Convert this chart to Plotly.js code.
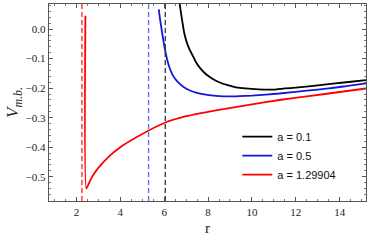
<!DOCTYPE html>
<html>
<head>
<meta charset="utf-8">
<script src="https://cdn.plot.ly/plotly-3.0.1.min.js"></script>
<style>html,body{margin:0;padding:0;background:#fff}#chart{width:374px;height:240px}</style>
</head>
<body>
<div id="chart"></div>
<script>
// a = 0.1
const r_a01 = [6.66, 6.7, 6.77, 6.85, 6.92, 7.03, 7.15, 7.3, 7.45, 7.65, 7.91, 8.2, 8.51, 8.9, 9.27, 9.7, 10.3, 10.9, 11.5, 12.0, 12.7, 13.5, 14.3, 15.2];
const v_a01 = [0.12, 0.09, 0.053, 0.015, -0.015, -0.045, -0.068, -0.09, -0.112, -0.133, -0.153, -0.168, -0.18, -0.19, -0.197, -0.201, -0.204, -0.205, -0.201, -0.198, -0.193, -0.186, -0.180, -0.173];
// a = 0.5
const r_a05 = [5.755, 5.8, 5.864, 5.94, 6.014, 6.09, 6.164, 6.27, 6.39, 6.53, 6.69, 6.9, 7.15, 7.45, 7.75, 8.36, 9.0, 9.42, 10.0, 11.25, 12.5, 13.5, 14.3, 15.2];
const v_a05 = [0.067, 0.04, 0.008, -0.028, -0.06, -0.088, -0.111, -0.136, -0.156, -0.171, -0.184, -0.197, -0.207, -0.215, -0.220, -0.226, -0.228, -0.227, -0.225, -0.218, -0.208, -0.201, -0.193, -0.184];
// a = 1.29904
const r_a13 = [2.41, 2.45, 2.6, 2.8, 3.0, 3.5, 4.0, 4.42, 5.0, 6.0, 7.0, 8.36, 10.0, 11.25, 12.5, 14.0, 15.2];
const v_a13 = [0.045, -0.54, -0.517, -0.49, -0.47, -0.43, -0.40, -0.38, -0.355, -0.318, -0.295, -0.275, -0.255, -0.24, -0.228, -0.213, -0.201];
// dashed vertical markers (horizon / ISCO positions)
const dash_r = [2.25, 5.29, 6.05];
const dash_colors = ['#ff2020', '#6a6af0', '#333333'];
const seriesNames = ['a = 0.1', 'a = 0.5', 'a = 1.29904'];
const seriesColors = ['#000000', '#1515e0', '#ff0000'];
const yRange = [-0.582, 0.085];
const xRange = [0.75, 15.2];

const traces = [];
const rs = [r_a01, r_a05, r_a13], vs = [v_a01, v_a05, v_a13];
for (let i = 0; i < 3; i++) {
  traces.push({x: rs[i], y: vs[i], mode: 'lines', name: seriesNames[i],
    line: {color: seriesColors[i], width: 1.8, shape: 'spline', smoothing: 0.5}, hoverinfo: 'skip'});
}
for (let i = 0; i < dash_r.length; i++) {
  traces.push({x: [dash_r[i], dash_r[i]], y: yRange, mode: 'lines', showlegend: false,
    line: {color: dash_colors[i], width: 1.3, dash: '5px,3px'}, hoverinfo: 'skip'});
}

const serif = 'Liberation Serif, Times New Roman, serif';
const layout = {
  width: 374, height: 240,
  margin: {l: 49, r: 8, t: 4, b: 39},
  paper_bgcolor: '#fff', plot_bgcolor: '#fff',
  showlegend: true,
  legend: {x: 0.594, y: 0.4, xanchor: 'left', yanchor: 'top', bgcolor: 'rgba(0,0,0,0)',
    font: {family: 'Liberation Sans, Arial, sans-serif', size: 11, color: '#111'}, tracegroupgap: 0},
  xaxis: {range: xRange, dtick: 2, tick0: 0, ticks: 'inside', ticklen: 4, tickcolor: '#555',
    mirror: 'ticks', showline: true, linecolor: '#555', linewidth: 1.3, showgrid: false, zeroline: false,
    tickfont: {family: serif, size: 11, color: '#222'},
    minor: {dtick: 0.5, ticks: 'inside', ticklen: 2, tickcolor: '#777'},
    title: {text: 'r', font: {family: serif, size: 15, color: '#222'}, standoff: 6}},
  yaxis: {range: yRange, dtick: 0.1, tick0: 0, tickformat: '.1f', ticks: 'inside', ticklen: 4, tickcolor: '#555',
    mirror: 'ticks', showline: true, linecolor: '#555', linewidth: 1.3, showgrid: false, zeroline: false,
    tickfont: {family: serif, size: 11, color: '#222'},
    minor: {dtick: 0.02, ticks: 'inside', ticklen: 2, tickcolor: '#777'},
    title: {text: '<i>V</i><sub><i>m.b.</i></sub>', font: {family: serif, size: 17, color: '#222'}, standoff: 2}}
};
Plotly.newPlot('chart', traces, layout, {staticPlot: true});
</script>
</body>
</html>
